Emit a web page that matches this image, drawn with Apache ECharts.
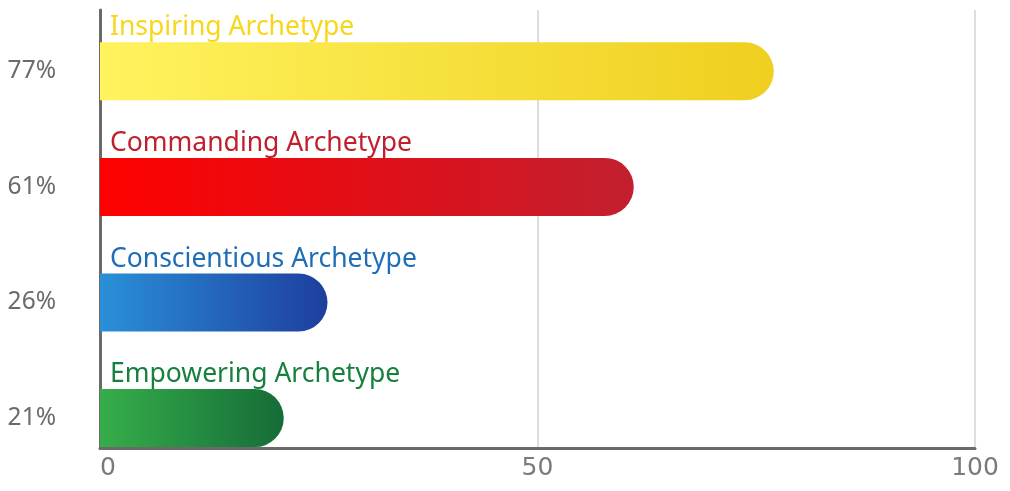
<!DOCTYPE html>
<html>
<head>
<meta charset="utf-8">
<script src="https://cdn.jsdelivr.net/npm/echarts@6/dist/echarts.min.js"></script>
<style>
  html, body { margin: 0; padding: 0; background: #fff; }
  #chart { width: 1010px; height: 491px; }
</style>
</head>
<body>
<div id="chart"></div>
<script>
const categories = ['Inspiring Archetype', 'Commanding Archetype', 'Conscientious Archetype', 'Empowering Archetype']
const values = [77, 61, 26, 21]
const percentLabels = ['77%', '61%', '26%', '21%']
const xTicks = [0, 50, 100]

// left / right gradient stops and text colour for each bar
const startColors = ['#fff35e', '#ff0000', '#2a90d8', '#36ae4b']
const endColors = ['#efcf1f', '#c21f2f', '#1e3e9d', '#156c37']
const textColors = ['#f8d61a', '#c0202e', '#1f6db7', '#17803f']

const chart = echarts.init(document.getElementById('chart'))

const option = {
  animation: false,
  grid: [
    // bars
    { left: 100, right: 35, top: 13.5, height: 462.4 },
    // axis frame
    { left: 100, right: 35, top: 10, bottom: 43 }
  ],
  xAxis: [
    { gridIndex: 0, type: 'value', min: 0, max: 100, show: false },
    {
      gridIndex: 1,
      type: 'value',
      min: xTicks[0],
      max: xTicks[xTicks.length - 1],
      interval: 50,
      axisLine: { show: true, lineStyle: { color: '#6a6a6a', width: 3 } },
      axisTick: { show: false },
      splitLine: { lineStyle: { color: '#dddddd', width: 2 } },
      axisLabel: {
        color: '#7a7a7a',
        fontSize: 25,
        fontFamily: 'DejaVu Sans',
        margin: 8,
        alignMinLabel: 'left'
      }
    }
  ],
  yAxis: [
    {
      gridIndex: 0,
      type: 'category',
      inverse: true,
      data: categories,
      axisLine: { show: false },
      axisTick: { show: false },
      axisLabel: {
        color: '#6b6b6b',
        fontSize: 24.5,
        fontFamily: 'Noto Sans',
        margin: 44,
        formatter: (v, i) => percentLabels[i]
      }
    },
    {
      gridIndex: 1,
      type: 'value',
      min: 0,
      max: 1,
      axisLine: { show: true, lineStyle: { color: '#6a6a6a', width: 3 } },
      axisTick: { show: false },
      axisLabel: { show: false },
      splitLine: { show: false }
    }
  ],
  series: [
    {
      type: 'bar',
      xAxisIndex: 0,
      yAxisIndex: 0,
      barWidth: 58,
      data: values.map((v, i) => ({
        value: v,
        itemStyle: {
          borderRadius: [0, 29, 29, 0],
          color: new echarts.graphic.LinearGradient(0, 0, 1, 0, [
            { offset: 0, color: startColors[i] },
            { offset: 1, color: endColors[i] }
          ])
        },
        label: {
          show: true,
          position: [10, -1],
          align: 'left',
          verticalAlign: 'bottom',
          formatter: categories[i],
          color: textColors[i],
          fontSize: 26.5,
          fontFamily: 'Noto Sans'
        }
      }))
    }
  ]
}

chart.setOption(option)
</script>
</body>
</html>
